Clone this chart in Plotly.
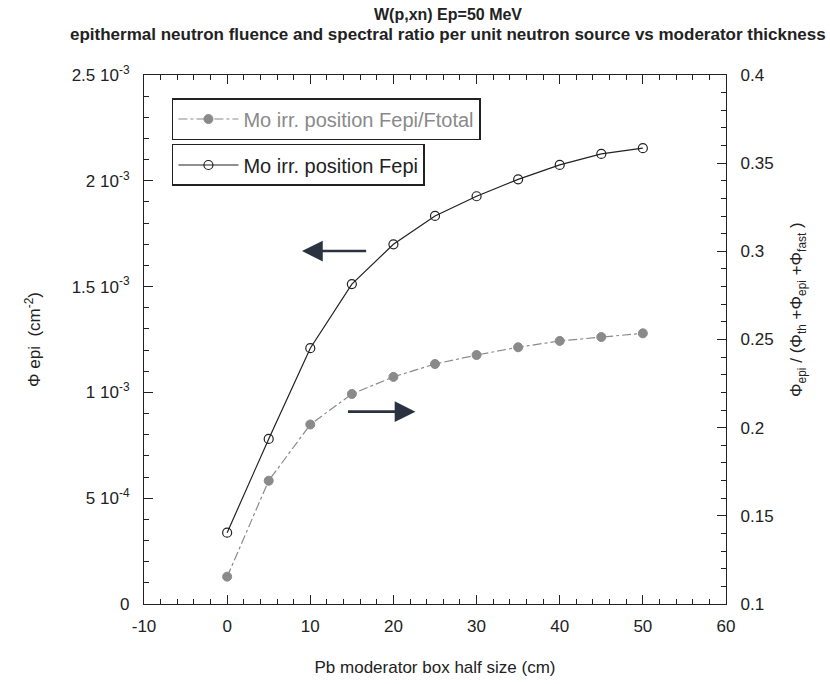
import plotly.graph_objects as go

# Pb moderator box half size (cm)
thickness = [0, 5, 10, 15, 20, 25, 30, 35, 40, 45, 50]
# epithermal fluence per unit source (cm^-2)
fepi = [3.37e-4, 7.80e-4, 1.209e-3, 1.512e-3, 1.700e-3, 1.834e-3,
        1.927e-3, 2.007e-3, 2.075e-3, 2.127e-3, 2.154e-3]
# spectral ratio Fepi/Ftotal
ratio = [0.1155, 0.1699, 0.2018, 0.2191, 0.2288, 0.2361,
         0.2412, 0.2456, 0.2492, 0.2514, 0.2535]

x_vals = [-10, 0, 10, 20, 30, 40, 50, 60]
x_text = ["-10", "0", "10", "20", "30", "40", "50", "60"]
left_vals = [0, 5e-4, 1e-3, 1.5e-3, 2e-3, 2.5e-3]
left_text = ["0", "5 10<sup>-4</sup>", "1 10<sup>-3</sup>", "1.5 10<sup>-3</sup>",
             "2 10<sup>-3</sup>", "2.5 10<sup>-3</sup>"]
right_vals = [0.1, 0.15, 0.2, 0.25, 0.3, 0.35, 0.4]
right_text = ["0.1", "0.15", "0.2", "0.25", "0.3", "0.35", "0.4"]

title_lines = ["W(p,xn) Ep=50 MeV",
               "epithermal neutron fluence and spectral ratio per unit neutron source "
               "vs moderator thickness"]
right_title = "Φ<sub>epi</sub> / (Φ<sub>th</sub> +Φ<sub>epi</sub> +Φ<sub>fast</sub> )"

FONT = "Liberation Sans, Arial, sans-serif"
INK = "#222222"

fig = go.Figure()

fig.add_trace(go.Scatter(
    x=thickness, y=ratio, yaxis="y2", mode="lines+markers",
    name="Mo irr. position Fepi/Ftotal", legend="legend", showlegend=True,
    line=dict(color="#8a8a8a", width=1.2, dash="dashdot"),
    marker=dict(symbol="circle", size=9, color="#8a8a8a",
                line=dict(color="#8a8a8a", width=1)),
))
fig.add_trace(go.Scatter(
    x=thickness, y=fepi, mode="lines+markers",
    name="Mo irr. position Fepi", legend="legend2", showlegend=True,
    line=dict(color=INK, width=1.2),
    marker=dict(symbol="circle-open", size=9, color=INK,
                line=dict(color=INK, width=1.2)),
))

# direction arrows pointing at the axis each curve belongs to
arrow = dict(text="", showarrow=True, arrowhead=2, arrowsize=1.6,
             arrowwidth=2.6, arrowcolor="#2b3340", xref="x", yref="y",
             axref="x", ayref="y")
fig.add_annotation(x=9.0, y=1.668e-3, ax=16.9, ay=1.668e-3, **arrow)
fig.add_annotation(x=22.65, y=0.909e-3, ax=14.35, ay=0.909e-3, **arrow)

# two-line bold heading
for text, ypos, size in zip(title_lines, [1.115, 1.0775], [16, 17]):
    fig.add_annotation(text=f"<b>{text}</b>", x=0.5215, y=ypos, xref="paper", yref="paper",
                       xanchor="center", yanchor="middle", showarrow=False,
                       font=dict(family=FONT, size=size, color=INK))

# right-hand axis title
fig.add_annotation(text=right_title, textangle=-90, x=1.1237, y=0.5577,
                   xref="paper", yref="paper", xanchor="center", yanchor="middle",
                   showarrow=False, font=dict(family=FONT, size=17, color=INK))

legend_common = dict(
    xref="paper", yref="paper", xanchor="left", yanchor="top",
    bgcolor="white", bordercolor=INK, borderwidth=1.5,
    itemwidth=60, tracegroupgap=0,
)

fig.update_layout(
    width=830, height=684,
    margin=dict(l=144, r=104, t=75, b=80),
    paper_bgcolor="white", plot_bgcolor="white",
    showlegend=True,
    font=dict(family=FONT, size=17, color=INK),
    xaxis=dict(
        range=[-10, 60], tickvals=x_vals, ticktext=x_text,
        ticks="inside", ticklen=9, tickwidth=1, tickcolor=INK,
        showline=True, linecolor=INK, linewidth=1.2, mirror="ticks",
        showgrid=False, zeroline=False,
        minor=dict(dtick=2, ticks="inside", ticklen=5, tickcolor=INK, showgrid=False),
        tickfont=dict(size=17), ticklabelstandoff=6,
        title=dict(text="Pb moderator box half size (cm)", font=dict(size=17), standoff=26),
    ),
    yaxis=dict(
        range=[0, 2.5e-3], tickvals=left_vals, ticktext=left_text,
        ticks="inside", ticklen=9, tickwidth=1, tickcolor=INK,
        showline=True, linecolor=INK, linewidth=1.2,
        showgrid=False, zeroline=False,
        minor=dict(dtick=1e-4, ticks="inside", ticklen=5, tickcolor=INK, showgrid=False),
        tickfont=dict(size=17), ticklabelstandoff=10,
        title=dict(text="Φ epi  (cm<sup>-2</sup>)", font=dict(size=17), standoff=26),
    ),
    yaxis2=dict(
        range=[0.1, 0.4], tickvals=right_vals, ticktext=right_text,
        overlaying="y", side="right",
        ticks="inside", ticklen=9, tickwidth=1, tickcolor=INK,
        showline=True, linecolor=INK, linewidth=1.2,
        showgrid=False, zeroline=False,
        minor=dict(dtick=0.01, ticks="inside", ticklen=5, tickcolor=INK, showgrid=False),
        tickfont=dict(size=17), ticklabelstandoff=10,
    ),
    legend=dict(x=0.048, y=0.9565, font=dict(size=20, color="#8a8a8a"), **legend_common),
    legend2=dict(x=0.048, y=0.8696, font=dict(size=20, color=INK), **legend_common),
)

fig.write_html("out.html")
